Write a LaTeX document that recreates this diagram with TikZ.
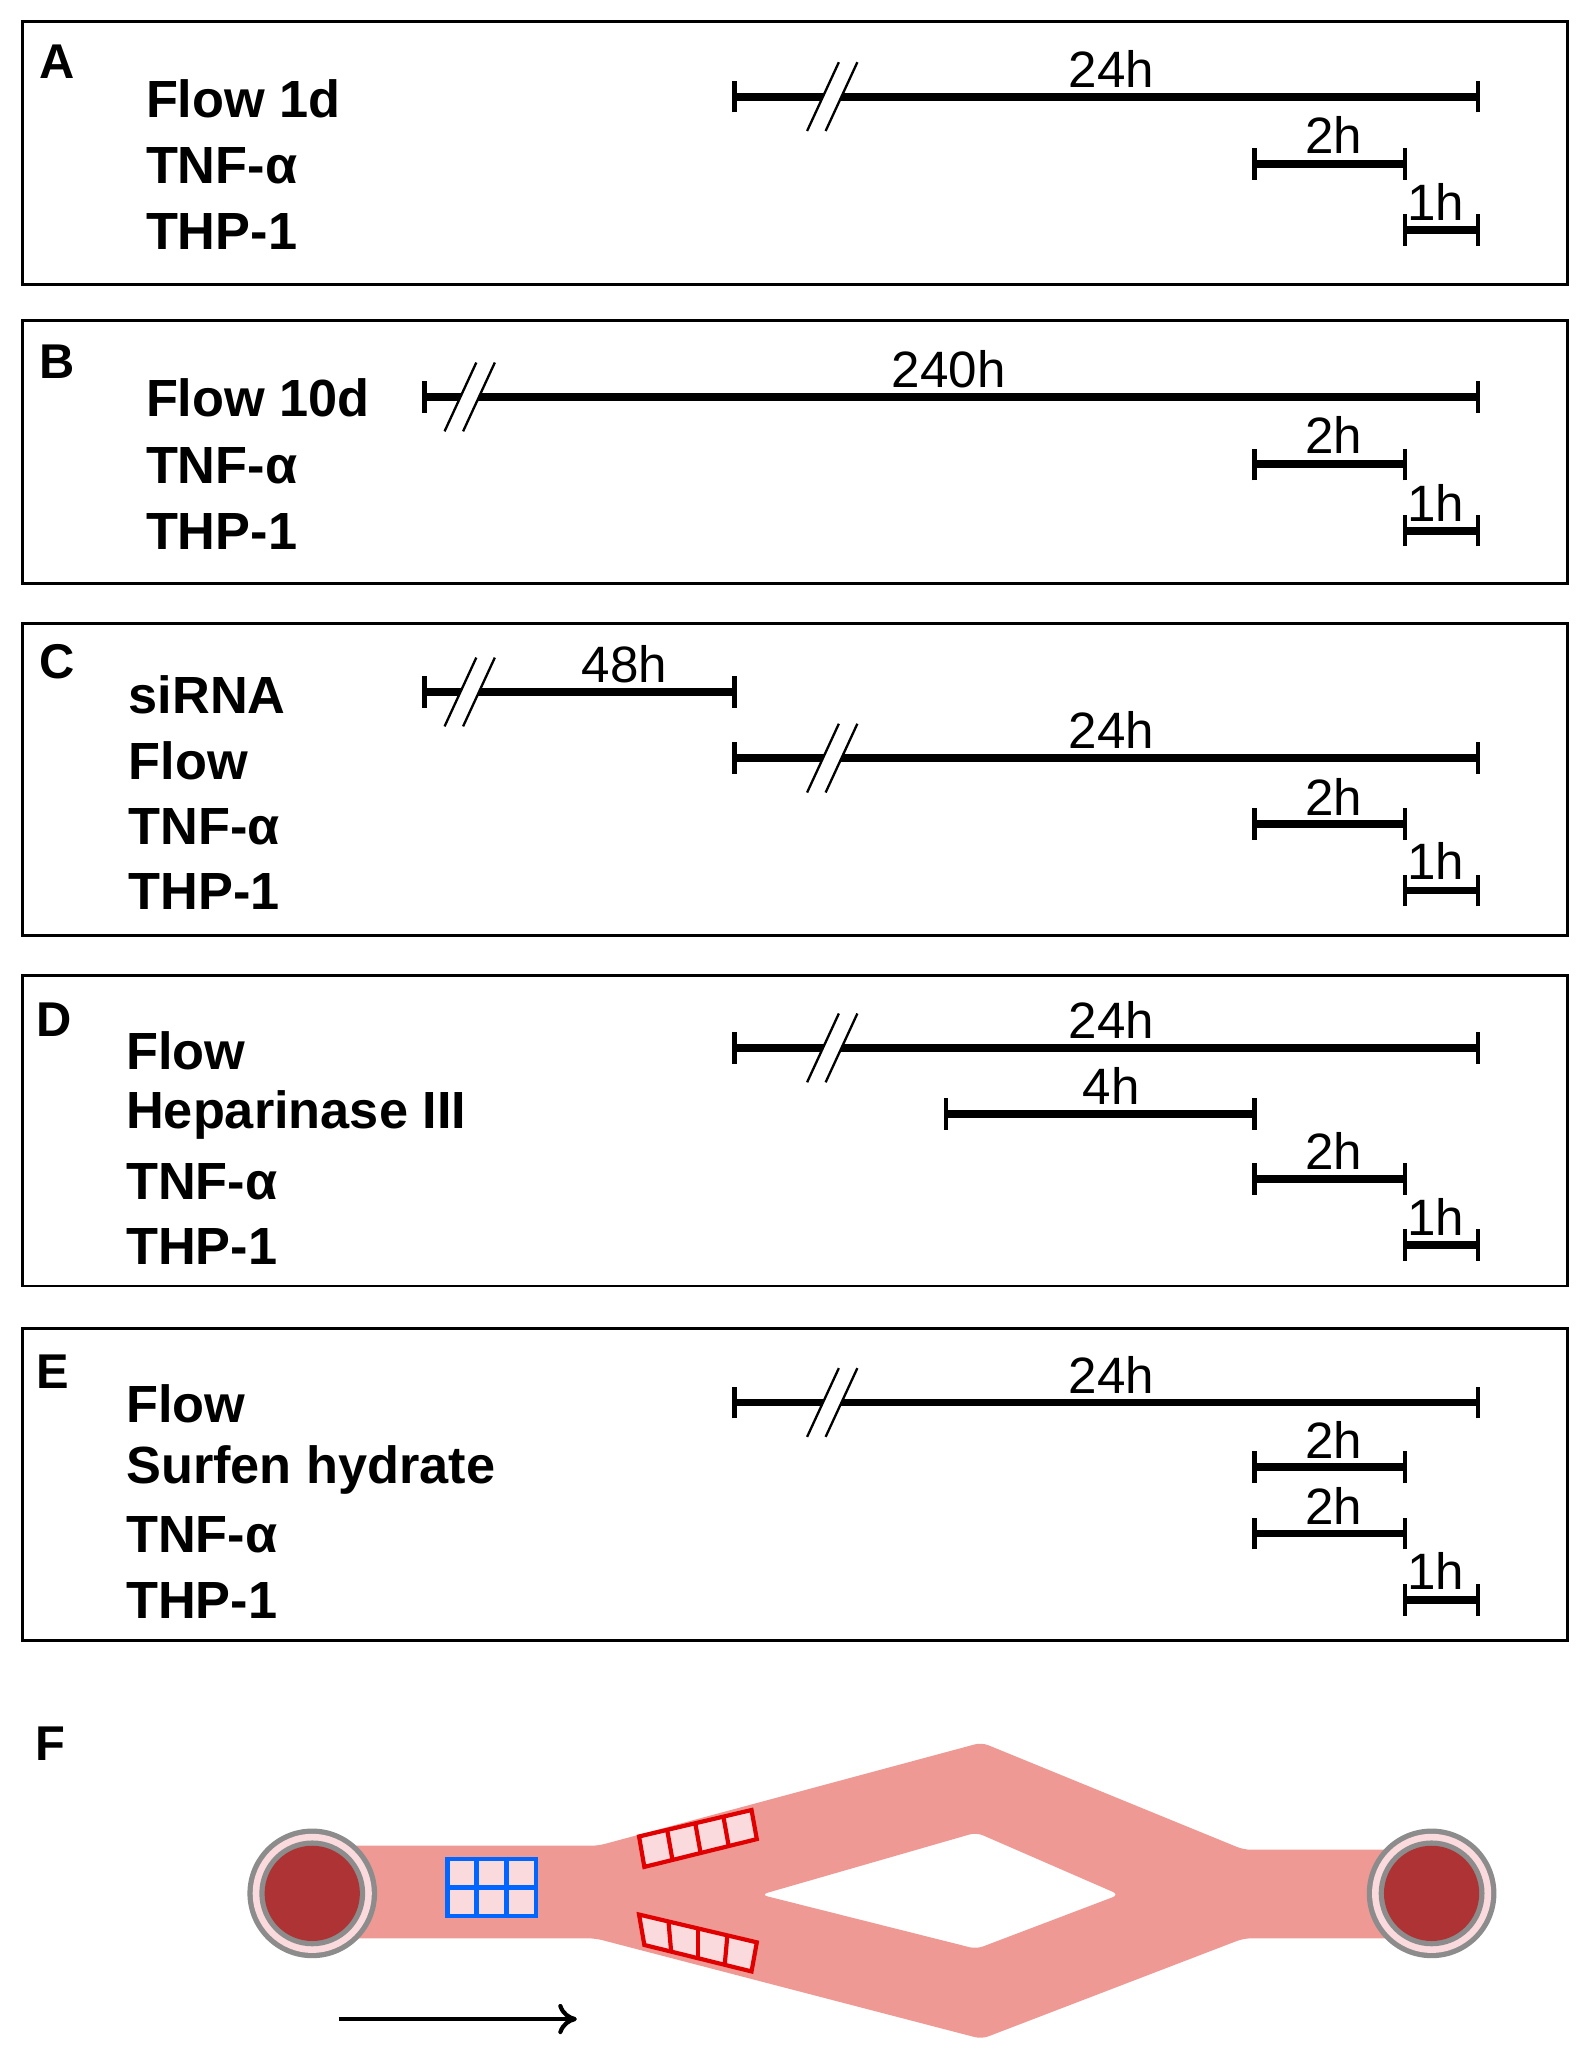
\documentclass[tikz,border=0pt]{standalone}
\usepackage{fontspec}
\setmainfont{Liberation Sans}
\usetikzlibrary{arrows.meta,calc}
\definecolor{chan}{HTML}{EF9995}
\definecolor{lpink}{HTML}{FADADD}
\definecolor{dred}{HTML}{AE3334}
\definecolor{bblue}{HTML}{0066FF}
\definecolor{rred}{HTML}{E00000}
\newcommand\tlbar[3]{%
  \coordinate (s) at (#1,#3); \coordinate (e) at (#2,#3);
  \draw[tbar] (s) -- (e);
  \draw[tick] ($(s)+(0,12)$) -- ($(s)+(0,-12)$);
  \draw[tick] ($(e)+(0,12)$) -- ($(e)+(0,-12)$);}
\newcommand\tlbrk[2]{%
  \fill[white] (#1-22,#2+26) -- (#1-8,#2+26) -- (#1+16,#2-26) -- (#1+2,#2-26) -- cycle;
  \draw[brk] (#1-22,#2+26) -- (#1+2,#2-26);
  \draw[brk] (#1-8,#2+26) -- (#1+16,#2-26);}
\begin{document}
\begin{tikzpicture}[x=0.02cm,y=-0.02cm,
  panel/.style={draw=black,line width=1.2pt},
  lab/.style={font=\fontsize{22.5}{24}\selectfont\bfseries,anchor=west,inner sep=0},
  plab/.style={font=\fontsize{21}{22}\selectfont\bfseries,inner sep=0},
  num/.style={font=\fontsize{22}{23}\selectfont,inner sep=0},
  tbar/.style={line width=3.4pt},
  tick/.style={line width=2pt},
  brk/.style={line width=1pt}]
\useasboundingbox (0,0) rectangle (1200,1563);
% panels
\draw[panel] (17,16) rectangle (1185,215);
\draw[panel] (17,242) rectangle (1185,441);
\draw[panel] (17,471) rectangle (1185,707);
\draw[panel] (17,737) rectangle (1185,972);
\draw[panel] (17,1004) rectangle (1185,1240);
\node[plab] (pA) at (43,47) {A};
\node[plab] (pB) at (43,273) {B};
\node[plab] (pC) at (43,500) {C};
\node[plab] (pD) at (41,771) {D};
\node[plab] (pE) at (40,1037) {E};
\node[plab] (pF) at (38,1318) {F};
% A
\node[lab] (a1) at (110,75) {Flow 1d};
\node[lab] (a2) at (110,125) {TNF-α};
\node[lab] (a3) at (110,175) {THP-1};
\tlbar{555}{1117}{73}\tlbrk{632}{73}
\tlbar{948}{1062}{124}\tlbar{1062}{1117}{174}
\node[num] (an1) at (840,52) {24h};
\node[num] (an2) at (1008,102) {2h};
\node[num] (an3) at (1085,153) {1h};
% B
\node[lab] (b1) at (110,301) {Flow 10d};
\node[lab] (b2) at (110,352) {TNF-α};
\node[lab] (b3) at (110,402) {THP-1};
\tlbar{321}{1117}{300}\tlbrk{358}{300}
\tlbar{948}{1062}{351}\tlbar{1062}{1117}{401}
\node[num] (bn1) at (717,279) {240h};
\node[num] (bn2) at (1008,329) {2h};
\node[num] (bn3) at (1085,380) {1h};
% C
\node[lab] (c1) at (97,525) {siRNA};
\node[lab] (c2) at (97,575) {Flow};
\node[lab] (c3) at (97,625) {TNF-α};
\node[lab] (c4) at (97,674) {THP-1};
\tlbar{321}{555}{523}\tlbrk{358}{523}
\tlbar{555}{1117}{573}\tlbrk{632}{573}
\tlbar{948}{1062}{623}\tlbar{1062}{1117}{673}
\node[num] (cn0) at (472,502) {48h};
\node[num] (cn1) at (840,552) {24h};
\node[num] (cn2) at (1008,602) {2h};
\node[num] (cn3) at (1085,651) {1h};
% D
\node[lab] (d1) at (95,794) {Flow};
\node[lab] (d2) at (95,843) {Heparinase III};
\node[lab] (d3) at (95,893) {TNF-α};
\node[lab] (d4) at (95,942) {THP-1};
\tlbar{555}{1117}{792}\tlbrk{632}{792}
\tlbar{715}{948}{842}
\tlbar{948}{1062}{891}\tlbar{1062}{1117}{941}
\node[num] (dn1) at (840,771) {24h};
\node[num] (dn0) at (840,821) {4h};
\node[num] (dn2) at (1008,870) {2h};
\node[num] (dn3) at (1085,920) {1h};
% E
\node[lab] (e1) at (95,1061) {Flow};
\node[lab] (e2) at (95,1111) {Surfen hydrate};
\node[lab] (e3) at (95,1160) {TNF-α};
\node[lab] (e4) at (95,1210) {THP-1};
\tlbar{555}{1117}{1060}\tlbrk{632}{1060}
\tlbar{948}{1062}{1109}
\tlbar{948}{1062}{1159}\tlbar{1062}{1117}{1209}
\node[num] (en1) at (840,1039) {24h};
\node[num] (en0) at (1008,1088) {2h};
\node[num] (en2) at (1008,1138) {2h};
\node[num] (en3) at (1085,1187) {1h};
% F channel
\fill[chan,even odd rule,rounded corners=3pt]
 (236,1395) -- (452,1395) -- (742,1317) -- (940,1398) -- (1080,1398) -- (1080,1465) -- (940,1465) -- (742,1541) -- (450,1465) -- (236,1465) -- cycle
 (575,1432) -- (738,1385) -- (846,1432) -- (738,1473) -- cycle;
\foreach \cx in {236,1082}{
  \fill[gray!90] (\cx,1431) circle (49);
  \fill[lpink] (\cx,1431) circle (45);
  \fill[gray!90] (\cx,1431) circle (40);
  \fill[dred] (\cx,1431) circle (36);
}
% blue grid
\fill[lpink] (338,1405) rectangle (405,1448);
\draw[bblue,line width=2pt] (338,1405) rectangle (405,1448);
\draw[bblue,line width=2pt] (338,1426.5) -- (405,1426.5) (360.3,1405) -- (360.3,1448) (382.7,1405) -- (382.7,1448);
% red boxes
\fill[lpink] (483,1388) -- (568,1368) -- (572,1390) -- (487,1411) -- cycle;
\draw[rred,line width=1.8pt] (483,1388) -- (568,1368) -- (572,1390) -- (487,1411) -- cycle;
\foreach \t in {0.25,0.5,0.75}{
  \draw[rred,line width=1.8pt] ($(483,1388)!\t!(568,1368)$) -- ($(487,1411)!\t!(572,1390)$);}
\fill[lpink] (483,1447) -- (572,1468) -- (568,1490) -- (487,1470) -- cycle;
\draw[rred,line width=1.8pt] (483,1447) -- (572,1468) -- (568,1490) -- (487,1470) -- cycle;
\foreach \t in {0.25,0.5,0.75}{
  \draw[rred,line width=1.8pt] ($(483,1447)!\t!(572,1468)$) -- ($(487,1470)!\t!(568,1490)$);}
% arrow
\coordinate (ar1) at (256,1526); \coordinate (ar2) at (436,1526);
\draw[line width=1.8pt,-{To[length=8pt,width=13pt]}] (ar1) -- (ar2);
\end{tikzpicture}
\end{document}
